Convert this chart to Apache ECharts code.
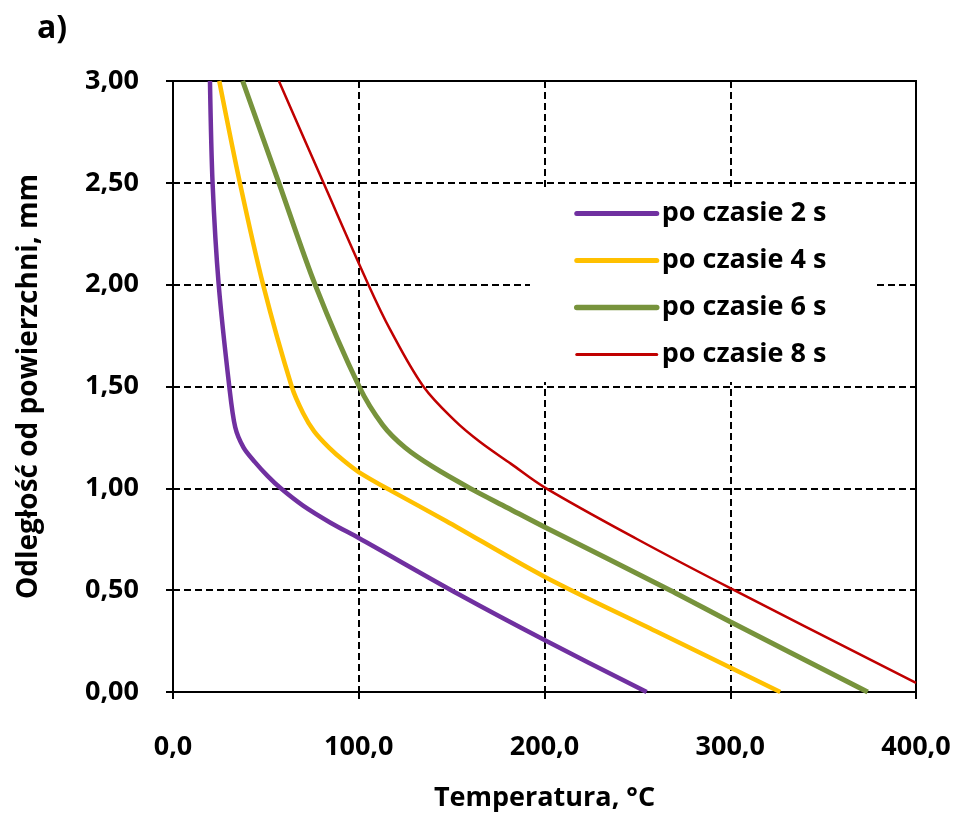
<!DOCTYPE html>
<html>
<head>
<meta charset="utf-8">
<script src="https://cdn.jsdelivr.net/npm/echarts@6/dist/echarts.min.js"></script>
<style>
  html, body { margin: 0; padding: 0; background: #fff; }
  #chart { width: 959px; height: 815px; }
</style>
</head>
<body>
<div id="chart"></div>
<script>
// temperatura (°C) i odległość od powierzchni (mm)
var seriesNames = ['po czasie 2 s', 'po czasie 4 s', 'po czasie 6 s', 'po czasie 8 s'];

var temp2 = [19.9, 21.3, 24.6, 30.3, 33.5, 38.0, 44.0, 51.0, 58.0, 70.0, 85.0, 100.0, 154.5, 200.0, 255.0];
var dist2 = [3.00, 2.50, 2.00, 1.50, 1.30, 1.20, 1.13, 1.06, 1.00, 0.915, 0.83, 0.756, 0.476, 0.255, 0.00];

var temp4 = [24.9, 36.0, 48.5, 63.9, 70.0, 76.0, 84.0, 92.0, 100.0, 117.0, 147.0, 200.0, 260.0, 326.9];
var dist4 = [3.00, 2.50, 2.00, 1.50, 1.37, 1.28, 1.20, 1.135, 1.08, 0.99, 0.84, 0.566, 0.298, 0.00];

var temp6 = [37.5, 57.0, 76.5, 100.2, 113.0, 125.0, 140.0, 160.0, 180.0, 200.0, 267.6, 300.0, 374.0];
var dist6 = [3.00, 2.50, 2.00, 1.50, 1.31, 1.20, 1.105, 1.00, 0.905, 0.81, 0.50, 0.345, 0.00];

var temp8 = [57.0, 81.0, 105.2, 117.0, 134.8, 152.0, 165.0, 182.0, 200.0, 250.0, 300.0, 400.0];
var dist8 = [3.00, 2.50, 2.00, 1.778, 1.50, 1.33, 1.23, 1.12, 1.005, 0.75, 0.51, 0.045];

var xTicks = [0, 100, 200, 300, 400];
var yTicks = [0, 0.5, 1.0, 1.5, 2.0, 2.5, 3.0];

function pairs(xs, ys) {
  return xs.map(function (x, i) { return [x, ys[i]]; });
}

var chart = echarts.init(document.getElementById('chart'), null, { renderer: 'canvas' });

var axisFont = 'Open Sans';
var lineWidths = [4.5, 4.5, 5, 2.5];

var option = {
  backgroundColor: '#ffffff',
  animation: false,
  color: ['#7030A0', '#FFC000', '#77933C', '#C00000'],
  title: {
    text: 'a)',
    left: 32,
    top: 8,
    textStyle: { fontFamily: axisFont, fontWeight: 'bold', fontSize: 32, color: '#000' }
  },
  grid: {
    show: true,
    left: 173,
    right: 43,
    top: 81,
    bottom: 123,
    outerBoundsMode: 'none',
    containLabel: false,
    borderWidth: 2,
    borderColor: '#000',
    backgroundColor: '#fff'
  },
  legend: {
    orient: 'vertical',
    left: 530,
    top: 190,
    backgroundColor: '#fff',
    padding: [8, 50, 12, 44],
    itemWidth: 80,
    itemHeight: 20,
    itemGap: 16,
    textStyle: { fontFamily: axisFont, fontWeight: 'bold', fontSize: 27, lineHeight: 31, color: '#000' },
    data: seriesNames.map(function (n, i) {
      return {
        name: n,
        itemStyle: { color: 'rgba(0,0,0,0)', borderWidth: 0 },
        lineStyle: { width: lineWidths[i] + 0.5, cap: 'round' }
      };
    })
  },
  xAxis: {
    type: 'value',
    min: xTicks[0],
    max: xTicks[xTicks.length - 1],
    interval: 100,
    name: 'Temperatura, °C',
    nameLocation: 'middle',
    nameGap: 93,
    nameTextStyle: { fontFamily: axisFont, fontWeight: 'bold', fontSize: 27, color: '#000' },
    axisLine: { show: true, lineStyle: { color: '#000', width: 2 } },
    axisTick: { show: true, length: 7, lineStyle: { color: '#000', width: 2 } },
    axisLabel: {
      margin: 42,
      fontFamily: axisFont, fontWeight: 'bold', fontSize: 27, color: '#000',
      formatter: function (v) { return v.toFixed(1).replace('.', ','); }
    },
    splitLine: { show: true, lineStyle: { color: '#000', width: 2, type: [7, 4] } }
  },
  yAxis: {
    type: 'value',
    min: yTicks[0],
    max: yTicks[yTicks.length - 1],
    interval: 0.5,
    name: 'Odległość od powierzchni, mm',
    nameLocation: 'middle',
    nameGap: 130,
    nameTextStyle: { fontFamily: axisFont, fontWeight: 'bold', fontSize: 28, color: '#000' },
    axisLine: { show: true, lineStyle: { color: '#000', width: 2 } },
    axisTick: { show: true, length: 7, lineStyle: { color: '#000', width: 2 } },
    axisLabel: {
      margin: 34,
      fontFamily: axisFont, fontWeight: 'bold', fontSize: 27, color: '#000',
      formatter: function (v) { return v.toFixed(2).replace('.', ','); }
    },
    splitLine: { show: true, lineStyle: { color: '#000', width: 2, type: [7, 4] } }
  },
  series: [
    { name: seriesNames[0], type: 'line', symbol: 'none', smooth: 0.3, lineStyle: { width: lineWidths[0] }, data: pairs(temp2, dist2) },
    { name: seriesNames[1], type: 'line', symbol: 'none', smooth: 0.3, lineStyle: { width: lineWidths[1] }, data: pairs(temp4, dist4) },
    { name: seriesNames[2], type: 'line', symbol: 'none', smooth: 0.3, lineStyle: { width: lineWidths[2] }, data: pairs(temp6, dist6) },
    { name: seriesNames[3], type: 'line', symbol: 'none', smooth: 0.35, lineStyle: { width: lineWidths[3] }, data: pairs(temp8, dist8) }
  ]
};

chart.setOption(option);
</script>
</body>
</html>
